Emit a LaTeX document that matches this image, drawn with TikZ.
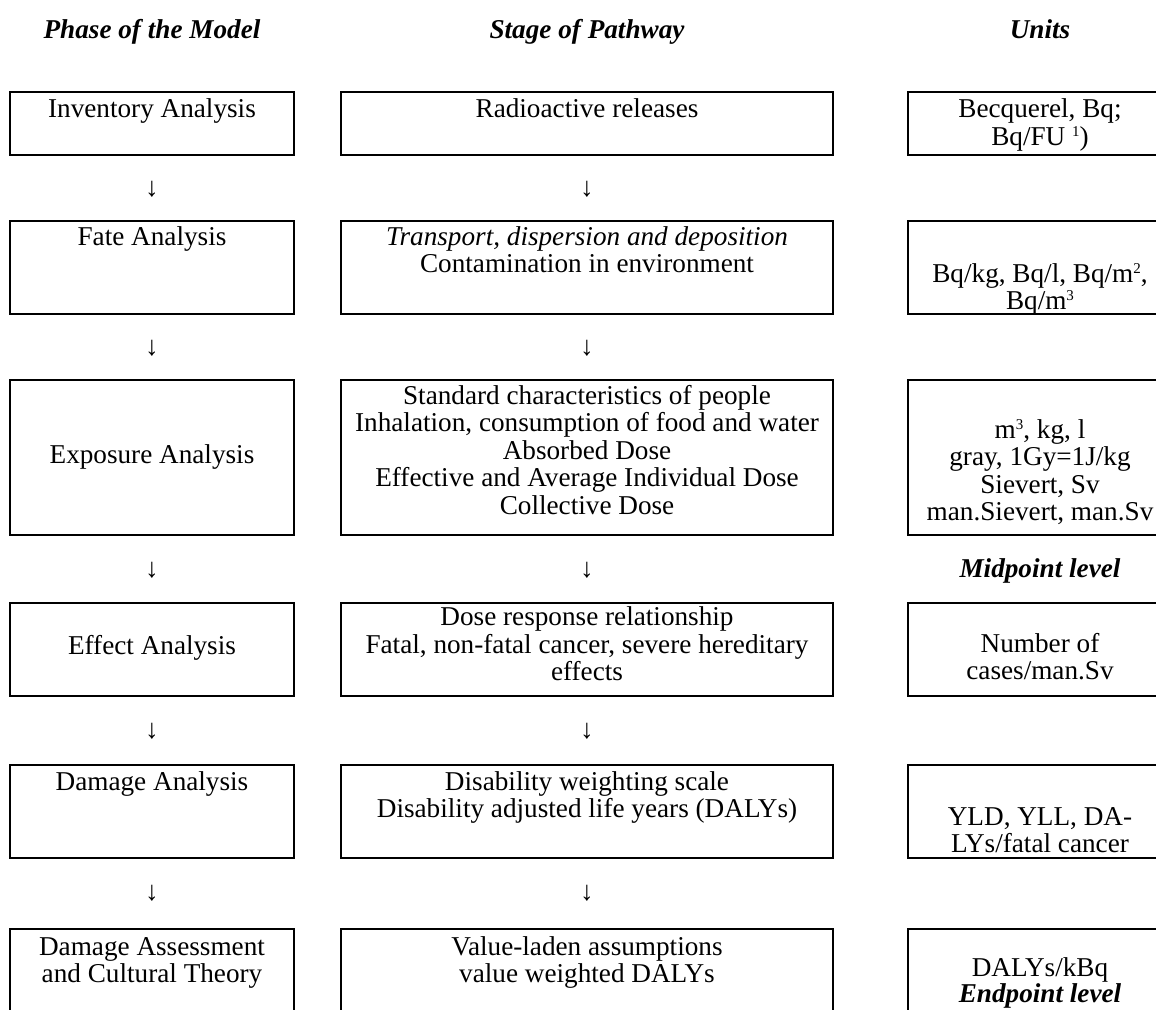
\documentclass[tikz,border=0pt]{standalone}
\usepackage{fontspec}
\setmainfont{Liberation Serif}
\newcommand{\supx}[1]{\raisebox{4.5pt}{\fontsize{7.5pt}{7.5pt}\selectfont #1}}
\begin{document}
\begin{tikzpicture}[x=0.5pt,y=-0.5pt,
  box/.style={draw,line width=1pt,inner sep=0pt},
  lbox/.style={box,minimum width=142pt},
  mbox/.style={box,minimum width=246pt},
  rbox/.style={box,minimum width=132pt},
  txt/.style={anchor=base,inner sep=0pt,font=\fontsize{13.6pt}{13.75pt}\selectfont},
  head/.style={txt,font=\fontsize{13.6pt}{13.75pt}\selectfont\bfseries\itshape},
  arr/.style={txt}]
\path[use as bounding box] (0,0) rectangle (1156,1009);
\clip (0,0) rectangle (1156,1009);
\fill[white] (0,0) rectangle (1156,1009);

% headers
\node[head] (h1) at (152,38) {Phase of the Model};
\node[head] (h2) at (587,38) {Stage of Pathway};
\node[head] (h3) at (1040,38) {Units};

% row 1
\node[lbox,minimum height=31.5pt] (l1) at (152,123.5) {};
\node[mbox,minimum height=31.5pt] (m1) at (587,123.5) {};
\node[rbox,minimum height=31.5pt] (r1) at (1040,123.5) {};
\node[txt] (l1a) at (152,117) {Inventory Analysis};
\node[txt] (m1a) at (587,117) {Radioactive releases};
\node[txt] (r1a) at (1040,117) {Becquerel, Bq;};
\node[txt] (r1b) at (1040,145) {Bq/FU \supx{1})};

\node[arr] (al1) at (152,196) {↓};
\node[arr] (am1) at (587,196) {↓};

% row 2
\node[lbox,minimum height=46.5pt] (l2) at (152,267.5) {};
\node[mbox,minimum height=46.5pt] (m2) at (587,267.5) {};
\node[rbox,minimum height=46.5pt] (r2) at (1040,267.5) {};
\node[txt] (l2a) at (152,245) {Fate Analysis};
\node[txt] (m2a) at (587,245) {\itshape Transport, dispersion and deposition};
\node[txt] (m2b) at (587,272) {Contamination in environment};
\node[txt] (r2a) at (1040,282) {Bq/kg, Bq/l, Bq/m\supx{2},};
\node[txt] (r2b) at (1040,309) {Bq/m\supx{3}};

\node[arr] (al2) at (152,355) {↓};
\node[arr] (am2) at (587,355) {↓};

% row 3
\node[lbox,minimum height=77.5pt] (l3) at (152,457.5) {};
\node[mbox,minimum height=77.5pt] (m3) at (587,457.5) {};
\node[rbox,minimum height=77.5pt] (r3) at (1040,457.5) {};
\node[txt] (l3a) at (152,463) {Exposure Analysis};
\node[txt] (m3a) at (587,404) {Standard characteristics of people};
\node[txt] (m3b) at (587,431.5) {Inhalation, consumption of food and water};
\node[txt] (m3c) at (587,459) {Absorbed Dose};
\node[txt] (m3d) at (587,486.5) {Effective and Average Individual Dose};
\node[txt] (m3e) at (587,514) {Collective Dose};
\node[txt] (r3a) at (1040,438) {m\supx{3}, kg, l};
\node[txt] (r3b) at (1040,465.5) {gray, 1Gy=1J/kg};
\node[txt] (r3c) at (1040,493) {Sievert, Sv};
\node[txt] (r3d) at (1040,520.5) {man.Sievert, man.Sv};

\node[arr] (al3) at (152,577) {↓};
\node[arr] (am3) at (587,577) {↓};
\node[head] (mid) at (1040,577) {Midpoint level};

% row 4
\node[lbox,minimum height=46.5pt] (l4) at (152,649) {};
\node[mbox,minimum height=46.5pt] (m4) at (587,649) {};
\node[rbox,minimum height=46.5pt] (r4) at (1040,649) {};
\node[txt] (l4a) at (152,654) {Effect Analysis};
\node[txt] (m4a) at (587,625) {Dose response relationship};
\node[txt] (m4b) at (587,653) {Fatal, non-fatal cancer, severe hereditary};
\node[txt] (m4c) at (587,680) {effects};
\node[txt] (r4a) at (1040,652) {Number of};
\node[txt] (r4b) at (1040,679) {cases/man.Sv};

\node[arr] (al4) at (152,738) {↓};
\node[arr] (am4) at (587,738) {↓};

% row 5
\node[lbox,minimum height=46.5pt] (l5) at (152,811.5) {};
\node[mbox,minimum height=46.5pt] (m5) at (587,811.5) {};
\node[rbox,minimum height=46.5pt] (r5) at (1040,811.5) {};
\node[txt] (l5a) at (152,790) {Damage Analysis};
\node[txt] (m5a) at (587,790) {Disability weighting scale};
\node[txt] (m5b) at (587,817) {Disability adjusted life years (DALYs)};
\node[txt] (r5a) at (1040,825) {YLD, YLL, DA-};
\node[txt] (r5b) at (1040,852) {LYs/fatal cancer};

\node[arr] (al5) at (152,900) {↓};
\node[arr] (am5) at (587,900) {↓};

% row 6
\node[lbox,minimum height=60.5pt] (l6) at (152,989.5) {};
\node[mbox,minimum height=60.5pt] (m6) at (587,989.5) {};
\node[rbox,minimum height=60.5pt] (r6) at (1040,989.5) {};
\node[txt] (l6a) at (152,955) {Damage Assessment};
\node[txt] (l6b) at (152,982) {and Cultural Theory};
\node[txt] (m6a) at (587,955) {Value-laden assumptions};
\node[txt] (m6b) at (587,982) {value weighted DALYs};
\node[txt] (r6a) at (1040,976) {DALYs/kBq};
\node[head] (endp) at (1040,1002) {Endpoint level};
\end{tikzpicture}
\end{document}
